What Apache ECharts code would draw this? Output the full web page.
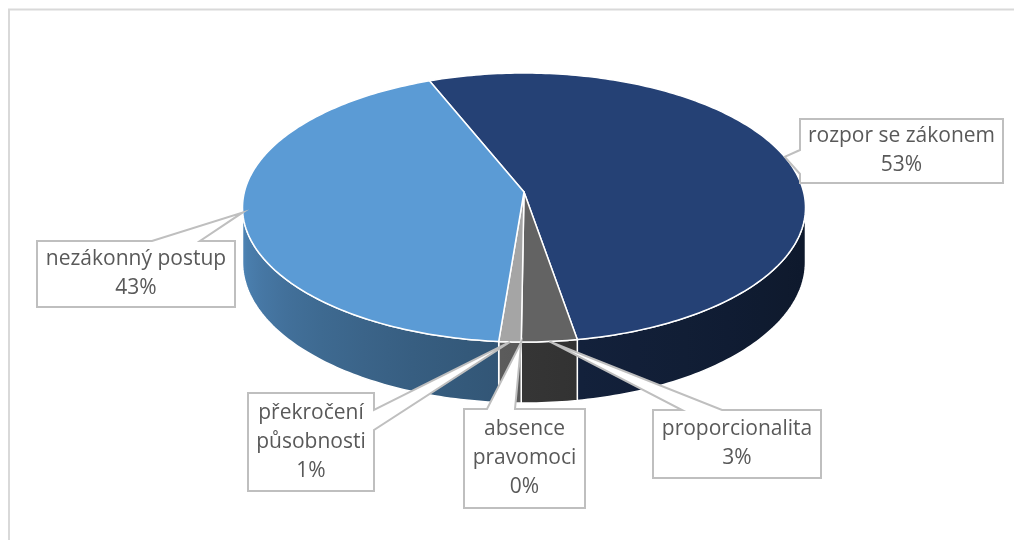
<!DOCTYPE html>
<html>
<head>
<meta charset="utf-8">
<script src="https://cdn.jsdelivr.net/npm/echarts@6/dist/echarts.min.js"></script>
<style>
html, body { margin: 0; padding: 0; background: #ffffff; }
#chart { width: 1014px; height: 540px; }
</style>
</head>
<body>
<div id="chart"></div>
<script>
// Slices in clockwise order, starting from the first slice angle (counts of cases)
const categories = ['rozpor se zákonem', 'proporcionalita', 'absence pravomoci', 'překročení působnosti', 'nezákonný postup'];
const values = [94, 5, 0, 2, 75];
// How each category name is broken inside its callout
const labelLines = [['rozpor se zákonem'], ['proporcionalita'], ['absence', 'pravomoci'], ['překročení', 'působnosti'], ['nezákonný postup']];

// Styling
const sliceColors = ['#254175', '#636363', '#7f7f7f', '#a5a5a5', '#5b9bd5'];
const textColor = '#595959';
const calloutBorder = '#bfbfbf';

// 3D pie geometry: ellipse centre, radii, perspective strength, wall height
const pie = { cx: 524, cy: 192, rx: 279.6, ry: 132.7, k: 0.1154, depth: 54, startAngle: 338 };

// Callout boxes and the edge their pointer leaves from
const callouts = [
  { x: 800, y: 119, w: 203, h: 64, edge: 'left', b0: 150, b1: 174 },
  { x: 653, y: 410, w: 168, h: 68, edge: 'top', b0: 682, b1: 722 },
  { x: 464, y: 409, w: 121, h: 99, edge: 'top', b0: 487, b1: 515 },
  { x: 248, y: 393, w: 126, h: 98, edge: 'right', b0: 410, b1: 430 },
  { x: 37, y: 241, w: 198, h: 66, edge: 'top', b0: 152, b1: 200 }
];

const total = values.reduce((a, b) => a + b, 0);
const cumulative = [];
values.reduce((acc, v, i) => { cumulative[i] = acc; return acc + v; }, 0);
const seriesData = values.map((v, i) => ({ name: categories[i], value: [v, cumulative[i]] }));

// Project a point of the disc (angle clockwise from 12 o'clock, radius 0..1, drop below top face)
function proj(psi, r, drop) {
  const a = psi * Math.PI / 180;
  const u = r * Math.sin(a);
  const v = -r * Math.cos(a);
  const w = 1 - pie.k * v;
  return [pie.cx + pie.rx * u / w, pie.cy + (pie.ry * v + drop) / w];
}

function sliceAngles(val, cum) {
  const s = pie.startAngle + cum / total * 360;
  const e = s + val / total * 360;
  return [s, e];
}

function arc(s, e, drop) {
  const pts = [];
  const n = Math.max(2, Math.ceil((e - s) / 1));
  for (let i = 0; i <= n; i++) pts.push(proj(s + (e - s) * i / n, 1, drop));
  return pts;
}

function shade(hex, f) {
  const n = parseInt(hex.slice(1), 16);
  const c = [(n >> 16) & 255, (n >> 8) & 255, n & 255].map(x => Math.round(x * f));
  return 'rgb(' + c.join(',') + ')';
}

// Visible part of the side wall lies between the two silhouette angles
const silhouette = Math.acos(-pie.k) * 180 / Math.PI;
const wallLo = silhouette, wallHi = 360 - silhouette;
const xRight = proj(wallLo, 1, 0)[0];
const xLeft = proj(wallHi, 1, 0)[0];
function wallFactor(psi) {
  const t = Math.min(1, Math.max(0, (psi - wallLo) / (wallHi - wallLo)));
  return 0.38 + 0.48 * Math.pow(t, 1.6);
}
function wallGradient(color) {
  const stops = [];
  for (let i = 0; i <= 16; i++) {
    const psi = wallLo + (wallHi - wallLo) * i / 16;
    const x = proj(psi, 1, 0)[0];
    stops.push({ offset: (x - xRight) / (xLeft - xRight), color: shade(color, wallFactor(psi)) });
  }
  return { type: 'linear', x: xRight, y: 0, x2: xLeft, y2: 0, global: true, colorStops: stops };
}

function renderWall(params, api) {
  const [s, e] = sliceAngles(api.value(0), api.value(1));
  const color = sliceColors[params.dataIndex];
  const children = [];
  [0, 360].forEach(off => {
    const a = Math.max(s, wallLo + off);
    const b = Math.min(e, wallHi + off);
    if (b > a) {
      const top = arc(a, b, 0);
      const bottom = arc(a, b, pie.depth).reverse();
      children.push({
        type: 'polygon',
        shape: { points: top.concat(bottom) },
        style: { fill: wallGradient(color), stroke: '#ffffff', lineWidth: 1.5, lineJoin: 'round' }
      });
    }
  });
  return { type: 'group', children: children };
}

function renderTop(params, api) {
  const val = api.value(0);
  if (!(val > 0)) return { type: 'group', children: [] };
  const [s, e] = sliceAngles(val, api.value(1));
  const pts = [proj(0, 0, 0)].concat(arc(s, e, 0));
  return {
    type: 'polygon',
    shape: { points: pts },
    style: { fill: sliceColors[params.dataIndex], stroke: '#ffffff', lineWidth: 1.5, lineJoin: 'round' }
  };
}

function renderCallout(params, api) {
  const i = params.dataIndex;
  const val = api.value(0);
  const [s, e] = sliceAngles(val, api.value(1));
  const tip = proj((s + e) / 2, 1, 0);
  const c = callouts[i];
  const x0 = c.x, y0 = c.y, x1 = c.x + c.w, y1 = c.y + c.h;
  let pts = [[x0, y0]];
  if (c.edge === 'top') pts.push([c.b0, y0], tip, [c.b1, y0]);
  pts.push([x1, y0]);
  if (c.edge === 'right') pts.push([x1, c.b0], tip, [x1, c.b1]);
  pts.push([x1, y1], [x0, y1]);
  if (c.edge === 'left') pts.push([x0, c.b1], tip, [x0, c.b0]);
  const pct = Math.round(val / total * 100) + '%';
  const lines = labelLines[i].concat([pct]);
  return {
    type: 'group',
    children: [
      {
        type: 'polygon',
        shape: { points: pts },
        style: { fill: '#ffffff', stroke: calloutBorder, lineWidth: 2, lineJoin: 'miter' }
      },
      {
        type: 'text',
        x: c.x + c.w / 2,
        y: c.y + c.h / 2,
        style: {
          text: lines.join('\n'),
          fill: textColor,
          font: '21px "Open Sans", sans-serif',
          lineHeight: 29,
          align: 'center',
          verticalAlign: 'middle'
        }
      }
    ]
  };
}

const chart = echarts.init(document.getElementById('chart'), null, { renderer: 'canvas' });
chart.setOption({
  animation: false,
  backgroundColor: '#ffffff',
  graphic: [{
    type: 'rect',
    shape: { x: 9, y: 9.5, width: 1100, height: 600 },
    style: { fill: 'none', stroke: '#d9d9d9', lineWidth: 2 },
    z: 0
  }],
  series: [
    { type: 'custom', coordinateSystem: 'none', renderItem: renderWall, data: seriesData, z: 1, silent: true },
    { type: 'custom', coordinateSystem: 'none', renderItem: renderTop, data: seriesData, z: 2, silent: true },
    { type: 'custom', coordinateSystem: 'none', renderItem: renderCallout, data: seriesData, z: 3, silent: true }
  ]
});
</script>
</body>
</html>
